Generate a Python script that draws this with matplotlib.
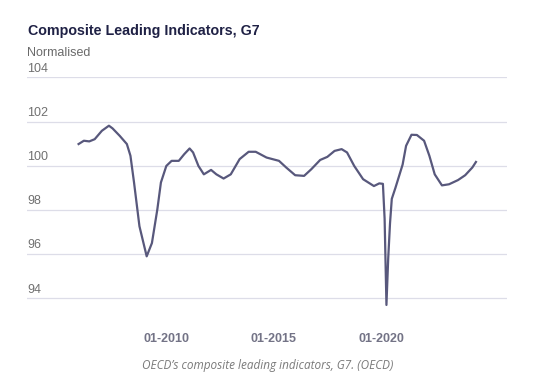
import numpy as np
import pandas as pd
import matplotlib
matplotlib.use("Agg")
import matplotlib.pyplot as plt
import matplotlib.dates as mdates
import matplotlib.transforms as mtransforms

# G7 composite leading indicator
dates = ["2005-12", "2006-03", "2006-06", "2006-09", "2007-01", "2007-05", "2007-07",
         "2007-11", "2008-03", "2008-05", "2008-07", "2008-10", "2009-02", "2009-05",
         "2009-08", "2009-10", "2010-01", "2010-04", "2010-08", "2010-11", "2011-02",
         "2011-04", "2011-07", "2011-10", "2012-02", "2012-05", "2012-09", "2013-01",
         "2013-06", "2013-11", "2014-03", "2014-09", "2015-04", "2015-08", "2016-01",
         "2016-06", "2016-10", "2017-03", "2017-07", "2017-11", "2018-03", "2018-06",
         "2018-10", "2019-03", "2019-09", "2019-12", "2020-02", "2020-03", "2020-04",
         "2020-05", "2020-06", "2020-07", "2020-09", "2021-01", "2021-03", "2021-06",
         "2021-09", "2022-01", "2022-04", "2022-07", "2022-11", "2023-03", "2023-08",
         "2023-12", "2024-04", "2024-06"]
cli = [100.98, 101.13, 101.10, 101.20, 101.58, 101.81, 101.69,
       101.35, 100.98, 100.45, 99.24, 97.26, 95.90, 96.50,
       98.02, 99.24, 99.99, 100.22, 100.22, 100.52, 100.78,
       100.60, 99.99, 99.61, 99.81, 99.61, 99.42, 99.61,
       100.30, 100.63, 100.63, 100.37, 100.22, 99.92, 99.57,
       99.54, 99.84, 100.26, 100.40, 100.67, 100.75, 100.60,
       99.99, 99.39, 99.08, 99.20, 99.18, 97.60, 93.70,
       95.80, 97.40, 98.50, 99.00, 100.05, 100.90, 101.40,
       101.39, 101.13, 100.45, 99.61, 99.11, 99.16, 99.35,
       99.57, 99.92, 100.17]
y_ticks = [94, 96, 98, 100, 102, 104]
x_ticks = ["2010-01", "2015-01", "2020-01"]

x = pd.to_datetime(dates)

W, H = 543, 390
fig = plt.figure(figsize=(W / 100, H / 100), dpi=100)
left, right = 27.3, 506.7
top, bottom = 77.3, 313.8
ax = fig.add_axes([left / W, 1 - bottom / H, (right - left) / W, (bottom - top) / H])

for v in y_ticks:
    ax.axhline(v, color="#dddde8", lw=0.9, zorder=1)

ax.plot(x, cli, color="#58587c", lw=1.6, solid_joinstyle="round", zorder=3)

ax.set_xlim(pd.Timestamp("2003-07-13"), pd.Timestamp("2025-11-06"))
ax.set_ylim(93.3, 104.0)

for s in ax.spines.values():
    s.set_visible(False)
ax.set_yticks([])
ax.set_xticks(pd.to_datetime(x_ticks))
ax.xaxis.set_major_formatter(mdates.DateFormatter("%m-%Y"))
ax.tick_params(axis="x", length=0, pad=14, labelsize=9, labelcolor="#737386")
for lbl in ax.get_xticklabels():
    lbl.set_family("Liberation Sans")
    lbl.set_fontweight("bold")

trans = mtransforms.blended_transform_factory(ax.transAxes, ax.transData)
for v in y_ticks:
    ax.text(0, v + 0.12, str(v), transform=trans, ha="left", va="bottom",
            fontsize=9, color="#707070", family="Liberation Sans")

fig.text(28 / W, 1 - 31 / H, "Composite Leading Indicators, G7", ha="left", va="center",
         fontsize=10.3, fontweight="bold", color="#1f2145", family="Liberation Sans")
fig.text(27.5 / W, 1 - 53.5 / H, "Normalised", ha="left", va="center",
         fontsize=9, color="#6a6a6a", family="Liberation Sans")
fig.text(267.5 / W, 1 - 366 / H, "OECD\u2019s composite leading indicators, G7. (OECD)",
         ha="center", va="center", fontsize=8.5, style="italic", color="#7a7a7a",
         family="Open Sans")

fig.savefig("out.png", dpi=100)
